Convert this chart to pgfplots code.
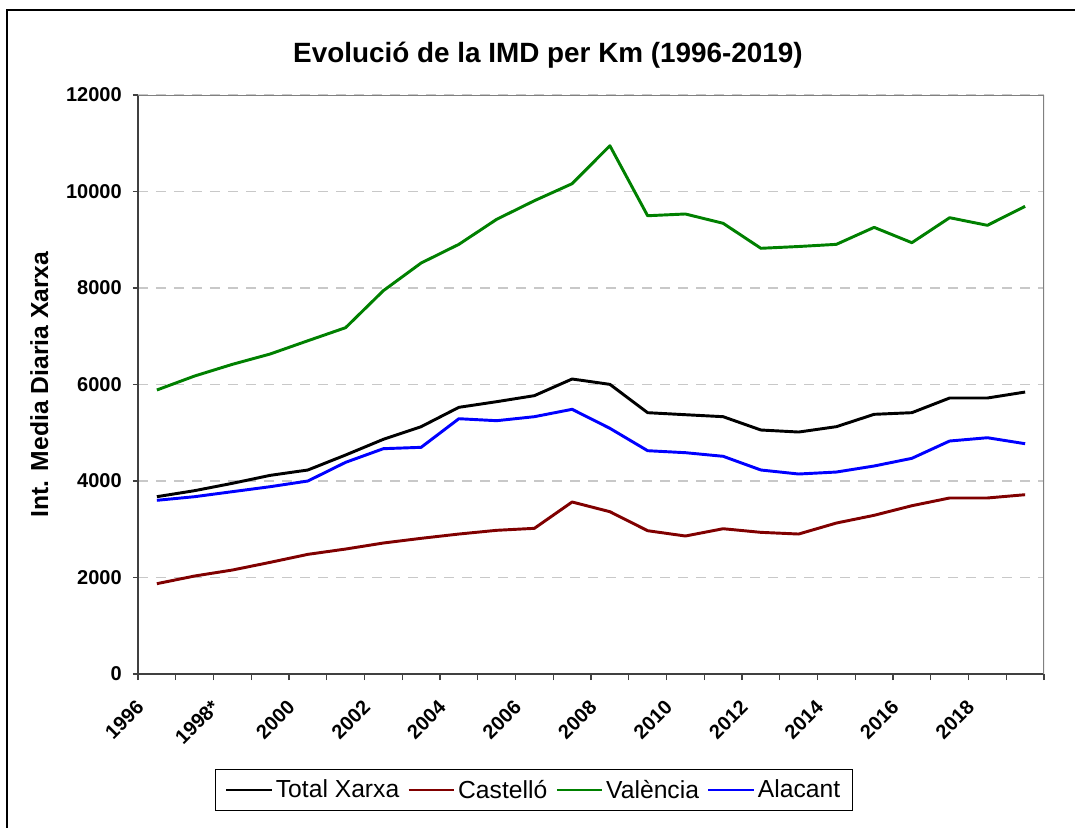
\documentclass[border=0pt]{standalone}
\usepackage{pgfplots}
\pgfplotsset{compat=1.18}
\usepackage{fontspec}
\setmainfont{Liberation Sans}
\definecolor{cTot}{HTML}{000000}
\definecolor{cCas}{HTML}{800000}
\definecolor{cVal}{HTML}{008000}
\definecolor{cAla}{HTML}{0000FF}
\definecolor{gridc}{HTML}{C8C8C8}
\begin{document}
\begin{tikzpicture}
\useasboundingbox (0,0) rectangle (806.25pt,-621pt);
\draw[black, line width=1.1pt] (5.25pt,-7.5pt) rectangle (820pt,-640pt);
\begin{axis}[
  at={(103.5pt,-505.5pt)}, anchor=south west,
  width=679.5pt, height=434.25pt, scale only axis,
  xmin=0, xmax=24, ymin=0, ymax=12000,
  scaled y ticks=false,
  axis x line*=bottom, axis y line*=left,
  axis line style={-, draw=black!75, line width=0.9pt},
  tick align=outside,
  major tick length=3.75pt, minor tick length=4.5pt,
  tick style={draw=black!75, line width=0.8pt},
  xtick={0.5,2.5,...,22.5},
  xticklabels={1996,1998*,2000,2002,2004,2006,2008,2010,2012,2014,2016,2018},
  minor xtick={0,1,...,24},
  major x tick style={draw=none},
  ytick={0,2000,...,12000},
  ymajorgrids,
  grid style={gridc, line width=0.8pt, dash pattern=on 7.5pt off 6pt},
  /pgf/number format/assume math mode=true,
  /pgf/number format/1000 sep={},
  ticklabel style={font=\fontsize{15}{18}\selectfont\bfseries},
  xticklabel style={rotate=45, anchor=north east, inner sep=0pt, xshift=-21.9pt, yshift=1.3pt},
  yticklabel style={inner sep=0pt, xshift=-8.25pt},
  ylabel={Int. Media Diaria Xarxa},
  every axis y label/.style={at={(axis description cs:-0.109,0.5)}, rotate=90, anchor=center, font=\fontsize{18.5}{22}\selectfont\bfseries},
  legend columns=4,
  legend style={at={(axis description cs:0.437,-0.2003)}, anchor=center, draw=black, line width=0.8pt,
    font=\fontsize{18.5}{22}\selectfont, inner xsep=7pt, inner ysep=4.5pt,
    nodes={inner xsep=2pt, inner ysep=3pt},
    /tikz/every even column/.append style={column sep=4pt}},
  legend image code/.code={\draw[#1, line width=2.2pt] (0pt,0pt) -- (34pt,0pt);},
  every axis plot/.append style={line width=2.2pt, mark=none, line join=round},
]
\addplot[cTot] coordinates {
(0.5,3675) (1.5,3800) (2.5,3952) (3.5,4117) (4.5,4228) (5.5,4539) (6.5,4864) (7.5,5126)
(8.5,5527) (9.5,5644) (10.5,5769) (11.5,6114) (12.5,6003) (13.5,5416) (14.5,5374) (15.5,5333)
(16.5,5057) (17.5,5015) (18.5,5126) (19.5,5382) (20.5,5416) (21.5,5720) (22.5,5720) (23.5,5844)};
\addlegendentry{Total Xarxa}
\addplot[cCas] coordinates {
(0.5,1872) (1.5,2031) (2.5,2155) (3.5,2314) (4.5,2480) (5.5,2590) (6.5,2715) (7.5,2812)
(8.5,2901) (9.5,2978) (10.5,3019) (11.5,3565) (12.5,3364) (13.5,2970) (14.5,2860) (15.5,3011)
(16.5,2936) (17.5,2901) (18.5,3129) (19.5,3289) (20.5,3488) (21.5,3648) (22.5,3648) (23.5,3716)};
\addlegendentry{Castelló}
\addplot[cVal] coordinates {
(0.5,5886) (1.5,6176) (2.5,6418) (3.5,6632) (4.5,6907) (5.5,7178) (6.5,7945) (7.5,8518)
(8.5,8905) (9.5,9423) (10.5,9809) (11.5,10162) (12.5,10949) (13.5,9498) (14.5,9534) (15.5,9341)
(16.5,8823) (17.5,8860) (18.5,8905) (19.5,9257) (20.5,8939) (21.5,9457) (22.5,9299) (23.5,9693)};
\addlegendentry{València}
\addplot[cAla] coordinates {
(0.5,3600) (1.5,3675) (2.5,3779) (3.5,3882) (4.5,4000) (5.5,4387) (6.5,4670) (7.5,4698)
(8.5,5291) (9.5,5250) (10.5,5333) (11.5,5486) (12.5,5092) (13.5,4628) (14.5,4587) (15.5,4512)
(16.5,4228) (17.5,4145) (18.5,4186) (19.5,4311) (20.5,4470) (21.5,4829) (22.5,4897) (23.5,4773)};
\addlegendentry{Alacant}
\draw[black!50, line width=0.9pt] (rel axis cs:0,1) -- (rel axis cs:1,1) -- (rel axis cs:1,0);
\end{axis}
\node[font=\fontsize{20.9}{24}\selectfont\bfseries, anchor=center] at (411pt,-41.25pt)
  {Evolució de la IMD per Km (1996-2019)};
\end{tikzpicture}
\end{document}
